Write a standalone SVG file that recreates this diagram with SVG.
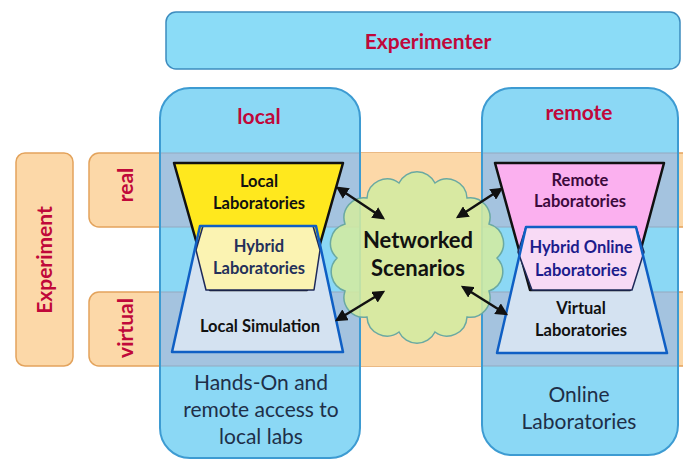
<svg xmlns="http://www.w3.org/2000/svg" width="683" height="462" viewBox="0 0 683 462">
<defs>
<style>
.band{fill:#fcd8a8;stroke:#e3a35c;stroke-width:1.5}
.col{fill:#8bd8f5}
.colline{fill:none;stroke:#3d9bd2;stroke-width:2}
.ov{fill:#a4c3df}
.ovl{stroke:#93a9c0;stroke-width:1}
.red{font-family:Lato,"Liberation Sans",sans-serif;fill:#c0083a;font-weight:bold;text-anchor:middle}
.lab{font-family:Lato,"Liberation Sans",sans-serif;font-weight:bold;font-size:16.5px;text-anchor:middle}
.foot{font-family:Lato,"Liberation Sans",sans-serif;font-size:21px;fill:#1e2f48;text-anchor:middle}
.blue{fill:#d4e2f1}
.bline{fill:none;stroke:#0f5fc4;stroke-width:2.5;stroke-linejoin:round}
.arr{stroke:#111;stroke-width:2.5;fill:none;marker-start:url(#ah);marker-end:url(#ah)}
</style>
<marker id="ah" viewBox="0 0 10 10" refX="8" refY="5" markerWidth="5" markerHeight="5" orient="auto-start-reverse" markerUnits="strokeWidth">
<path d="M0,0 L10,5 L0,10 z" fill="#111"/>
</marker>
</defs>
<rect width="683" height="462" fill="#ffffff"/>

<g id="experimenter">
<rect x="166" y="12" width="514" height="57" rx="10" fill="#8bdcf7" stroke="#3d8cbf" stroke-width="1.5"/>
<text class="red" x="428" y="49" font-size="21">Experimenter</text>
</g>

<g id="bands">
<rect class="band" x="89" y="153" width="610" height="74" rx="10"/>
<rect class="band" x="89" y="292" width="610" height="74" rx="10"/>
<rect x="359" y="153" width="124" height="213" fill="#fcd8a8"/>
</g>

<g id="experiment">
<rect class="band" x="16" y="153" width="57" height="213" rx="9"/>
<text class="red" font-size="21" transform="translate(52,260) rotate(-90)">Experiment</text>
</g>
<g id="real">
<text class="red" font-size="21" transform="translate(133,185) rotate(-90)">real</text>
</g>
<g id="virtual">
<text class="red" font-size="21" transform="translate(133,328) rotate(-90)">virtual</text>
</g>

<g id="local">
<path class="col" d="M160,118 A30,30 0 0 1 190,88 L330,88 A30,30 0 0 1 360,118 L360,428 A30,30 0 0 1 330,458 L190,458 A30,30 0 0 1 160,428 Z"/>
<rect class="ov" x="161" y="153" width="198" height="74"/>
<rect class="ov" x="161" y="292" width="198" height="74"/>
<path class="ovl" d="M161,153H359M161,227H359M161,292H359M161,366H359"/>
<path class="colline" d="M160,118 A30,30 0 0 1 190,88 L330,88 A30,30 0 0 1 360,118 L360,428 A30,30 0 0 1 330,458 L190,458 A30,30 0 0 1 160,428 Z"/>
<text class="red" x="259" y="124" font-size="21">local</text>
<text class="foot" x="261" y="390">Hands-On and</text>
<text class="foot" x="261" y="417">remote access to</text>
<text class="foot" x="261" y="444">local labs</text>
</g>

<g id="remote">
<path class="col" d="M482,118 A30,30 0 0 1 512,88 L648,88 A30,30 0 0 1 678,118 L678,425 A30,30 0 0 1 648,455 L512,455 A30,30 0 0 1 482,425 Z"/>
<rect class="ov" x="483" y="153" width="194" height="74"/>
<rect class="ov" x="483" y="292" width="194" height="74"/>
<path class="ovl" d="M483,153H677M483,227H677M483,292H677M483,366H677"/>
<path class="colline" d="M482,118 A30,30 0 0 1 512,88 L648,88 A30,30 0 0 1 678,118 L678,425 A30,30 0 0 1 648,455 L512,455 A30,30 0 0 1 482,425 Z"/>
<text class="red" x="579" y="120" font-size="21">remote</text>
<text class="foot" x="579" y="402">Online</text>
<text class="foot" x="579" y="429">Laboratories</text>
</g>

<g id="networked-scenarios">
<path d="M497,258 A20,20 0 0 1 489,291 A20,20 0 0 1 467,317 A20,20 0 0 1 435,332 A20,20 0 0 1 399,332 A20,20 0 0 1 367,317 A20,20 0 0 1 345,291 A20,20 0 0 1 337,258 A20,20 0 0 1 345,224 A20,20 0 0 1 367,198 A20,20 0 0 1 399,183 A20,20 0 0 1 435,183 A20,20 0 0 1 467,198 A20,20 0 0 1 489,224 A20,20 0 0 1 497,258 Z" fill="#d3eaa0" fill-opacity="0.88" stroke="#6aa9a2" stroke-width="1.5"/>
<text x="418" y="248" font-family="Lato,'Liberation Sans',sans-serif" font-weight="bold" font-size="22" text-anchor="middle" fill="#111">Networked</text>
<text x="418" y="276" font-family="Lato,'Liberation Sans',sans-serif" font-weight="bold" font-size="22" text-anchor="middle" fill="#111">Scenarios</text>
</g>

<g id="local-simulation">
<path class="blue" d="M200,226 L316,226 L343,352 L172,352 Z"/>
<text class="lab" x="260" y="332" fill="#111">Local Simulation</text>
</g>
<g id="local-laboratories">
<path d="M174,163 L343,163 L307,290 L210,290 Z" fill="#ffe81e" stroke="#111" stroke-width="2.5" stroke-linejoin="round"/>
<text class="lab" x="259" y="187" fill="#111">Local</text>
<text class="lab" x="259" y="209" fill="#111">Laboratories</text>
</g>
<g id="hybrid-laboratories">
<path d="M203,226 L313,226 L320,250 L314,290 L206,290 L196,250 Z" fill="#fbf3b2" stroke="#1e2a5a" stroke-width="1.5" stroke-linejoin="round"/>
<path class="bline" d="M200,226 L316,226 L343,352 L172,352 Z"/>
<text class="lab" x="259" y="252" fill="#24305a">Hybrid</text>
<text class="lab" x="259" y="274" fill="#24305a">Laboratories</text>
</g>

<g id="virtual-laboratories">
<path class="blue" d="M526,227 L636,227 L667,353 L497,353 Z"/>
<text class="lab" x="581" y="314" fill="#111">Virtual</text>
<text class="lab" x="581" y="336" fill="#111">Laboratories</text>
</g>
<g id="remote-laboratories">
<path d="M495,163 L664,163 L630,290 L530,290 Z" fill="#fbb0ef" stroke="#111" stroke-width="2.5" stroke-linejoin="round"/>
<text class="lab" x="580" y="186" fill="#3c0a3c">Remote</text>
<text class="lab" x="580" y="207" fill="#3c0a3c">Laboratories</text>
</g>
<g id="hybrid-online-laboratories">
<path d="M526,227 L636,227 L644,252 L632,290 L532,290 L518,252 Z" fill="#f8daf5" stroke="#1e2a5a" stroke-width="1.5" stroke-linejoin="round"/>
<path class="bline" d="M526,227 L636,227 L667,353 L497,353 Z"/>
<text class="lab" x="581" y="253" fill="#1c1c8c">Hybrid Online</text>
<text class="lab" x="581" y="276" fill="#1c1c8c">Laboratories</text>
</g>

<g id="connectors">
<line class="arr" x1="338" y1="188" x2="383" y2="218"/>
<line class="arr" x1="501" y1="189" x2="458" y2="217"/>
<line class="arr" x1="337" y1="320" x2="383" y2="292"/>
<line class="arr" x1="463" y1="287" x2="506" y2="314"/>
</g>
</svg>
